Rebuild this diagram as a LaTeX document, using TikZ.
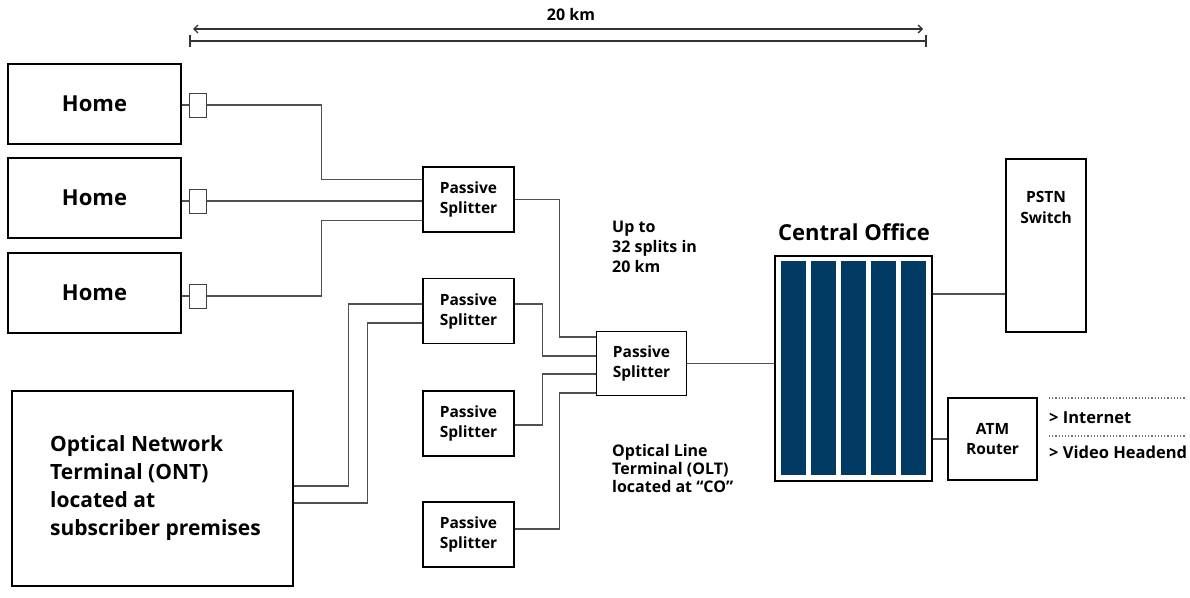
\documentclass[tikz,border=0pt]{standalone}
\usepackage{fontspec}
\setmainfont{Open Sans}
\usepackage{tikz}
\usetikzlibrary{arrows.meta,positioning,calc}
\definecolor{dnavy}{HTML}{013A63}
\definecolor{dwire}{HTML}{505050}

\tikzset{
  box/.style={draw=black, line width=1.6pt, fill=white, inner sep=0pt},
  plugbox/.style={draw=black!75, line width=1pt, fill=white, inner sep=0pt,
                  minimum width=17pt, minimum height=24pt},
  splitbox/.style={box, minimum width=91pt, minimum height=65pt, align=center,
                   font=\fontsize{15.5}{20}\selectfont\bfseries},
  homebox/.style={box, minimum width=173pt, minimum height=80pt,
                  font=\fontsize{22}{26}\selectfont\bfseries},
  wire/.style={draw=dwire, line width=1.2pt},
  note/.style={align=left, anchor=north west, inner sep=0pt,
               font=\fontsize{16}{20}\selectfont\bfseries}
}

\begin{document}
\begin{tikzpicture}[x=1pt,y=-1pt]

  \useasboundingbox (0,0) rectangle (1190,597);

  % ----- escala -----
  \coordinate (dimL) at (190,41);
  \coordinate (dimR) at (926,41);
  \draw[black!80, line width=1.2pt] (dimL) -- (dimR);
  \draw[black!80, line width=1.2pt] ([yshift=6pt]dimL) -- ([yshift=-6pt]dimL);
  \draw[black!80, line width=1.2pt] ([yshift=6pt]dimR) -- ([yshift=-6pt]dimR);
  \draw[black!80, line width=1.4pt, {Straight Barb[length=4pt,width=8pt]}-{Straight Barb[length=4pt,width=8pt]}]
    ([xshift=3pt,yshift=12pt]dimL) -- ([xshift=-3pt,yshift=12pt]dimR);
  \node[font=\fontsize{16}{18}\selectfont\bfseries] (dimlabel) at (571,14) {20 km};

  % ----- casas -----
  \node[homebox] (home1) at (94.5,104) {Home};
  \node[homebox] (home2) at (94.5,198) {Home};
  \node[homebox] (home3) at (94.5,293) {Home};
  \node[plugbox] (plug1) at (197.5,105) {};
  \node[plugbox] (plug2) at (197.5,201) {};
  \node[plugbox] (plug3) at (197.5,296) {};

  % ----- ONT -----
  \node[box, minimum width=281pt, minimum height=195pt] (ont) at (152.5,488.5) {};
  \node[align=left, anchor=west, inner sep=0pt,
        font=\fontsize{21}{28}\selectfont\bfseries] (onttext) at (50,488)
        {Optical Network\\Terminal (ONT)\\located at\\subscriber premises};

  % ----- splitters -----
  \node[splitbox] (split1) at (468.5,199.5) {Passive\\Splitter};
  \node[splitbox] (split2) at (468.5,311)   {Passive\\Splitter};
  \node[splitbox] (split3) at (468.5,423.5) {Passive\\Splitter};
  \node[splitbox] (split4) at (468.5,534.5) {Passive\\Splitter};
  \node[splitbox, minimum width=90pt, minimum height=64pt] (splitM) at (641.5,363.5) {Passive\\Splitter};

  % ----- central office -----
  \node[box, minimum width=157pt, minimum height=225pt] (co) at (853.5,368.5) {};
  \foreach \i in {0,...,4}
    \fill[dnavy] (781+30*\i,261) rectangle ++(25,214);
  \node[font=\fontsize{22}{26}\selectfont\bfseries] (cotitle) at (854,232) {Central Office};

  \node[box, minimum width=80pt, minimum height=173pt] (pstn) at (1046,245.5) {};
  \node[align=center, font=\fontsize{15.5}{21}\selectfont\bfseries] (pstntext) at (1046,207) {PSTN\\Switch};
  \node[box, minimum width=89pt, minimum height=82pt, align=center,
        font=\fontsize{15.5}{20}\selectfont\bfseries] (atm) at (992.5,439) {ATM\\Router};

  % ----- saídas do router -----
  \coordinate (dotA) at (1049,398);
  \coordinate (dotB) at (1049,436);
  \draw[black!55, line width=1.2pt, dotted] (dotA) -- ++(137,0);
  \draw[black!55, line width=1.2pt, dotted] (dotB) -- ++(137,0);
  \node[anchor=west, inner sep=0pt, font=\fontsize{16.5}{18}\selectfont\bfseries] (inet) at (1049,418) {> Internet};
  \node[anchor=west, inner sep=0pt, font=\fontsize{16.5}{18}\selectfont\bfseries] (video) at (1049,452) {> Video Headend};

  % ----- notas -----
  \node[note] (splitnote) at (612,221) {Up to\\32 splits in\\20 km};
  \node[note, font=\fontsize{16}{18}\selectfont\bfseries] (oltnote) at (612,444) {Optical Line\\Terminal (OLT)\\located at “CO”};

  % ----- fibras -----
  \draw[wire] (home1.east |- plug1) -- (plug1.west);
  \draw[wire] (home2.east |- plug2) -- (plug2.west);
  \draw[wire] (home3.east |- plug3) -- (plug3.west);
  \draw[wire] (plug1.east) -- ++(115,0) |- ([yshift=20pt]split1.west);
  \draw[wire] (plug2.east) -- (plug2.east -| split1.west);
  \draw[wire] (plug3.east) -- ++(115,0) |- ([yshift=-21pt]split1.west);

  \draw[wire] (split1.east) -- ++(45,0) |- ([yshift=26.5pt]splitM.west);
  \draw[wire] ([yshift=7pt]split2.east) -- ++(28,0) |- ([yshift=7.5pt]splitM.west);
  \draw[wire] ([yshift=-1.5pt]split3.east) -- ++(28,0) |- ([yshift=-10.5pt]splitM.west);
  \draw[wire] ([yshift=5.5pt]split4.east) -- ++(45,0) |- ([yshift=-29.5pt]splitM.west);

  \draw[wire] ([yshift=2.5pt]ont.east) -- ++(55,0) |- ([yshift=7pt]split2.west);
  \draw[wire] ([yshift=-14.5pt]ont.east) -- ++(74,0) |- ([yshift=-12pt]split2.west);

  \draw[wire] (splitM.east) -- (splitM.east -| co.west);
  \draw[wire] ([yshift=-48.5pt]pstn.west) -- ([yshift=-48.5pt]pstn.west -| co.east);
  \draw[wire] (atm.west) -- (atm.west -| co.east);

\end{tikzpicture}
\end{document}
